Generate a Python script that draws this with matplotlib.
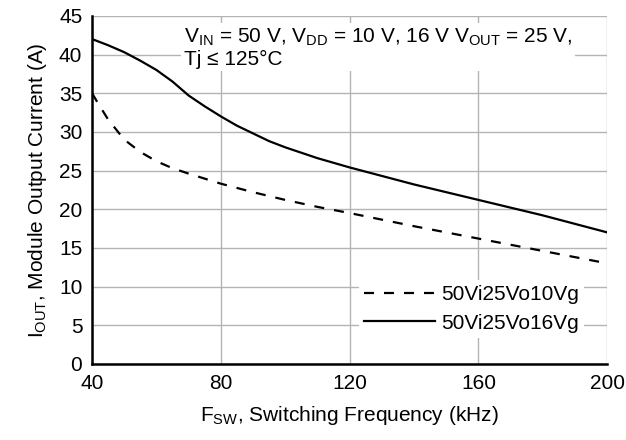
import matplotlib
matplotlib.use('Agg')
import matplotlib.pyplot as plt

plt.rcParams['font.family'] = ['Liberation Sans', 'DejaVu Sans']
plt.rcParams['mathtext.fontset'] = 'custom'
plt.rcParams['mathtext.rm'] = 'Liberation Sans'
plt.rcParams['mathtext.it'] = 'Liberation Sans'

# 50Vi25Vo10Vg (dashed)
freq_10vg = [40, 42, 45, 50, 55, 60, 65, 70, 80, 90, 100, 110, 120, 140, 160, 180, 200]
iout_10vg = [35, 33.6, 31.6, 29.0, 27.4, 26.2, 25.3, 24.6, 23.3, 22.2, 21.2, 20.3, 19.5, 17.8, 16.2, 14.6, 13]

# 50Vi25Vo16Vg (solid)
freq_16vg = [40, 45, 50, 55, 60, 65, 70, 75, 80, 85, 90, 95, 100, 110, 120, 130,
             140, 150, 160, 170, 180, 190, 200]
iout_16vg = [42, 41.2, 40.3, 39.2, 38.0, 36.5, 34.7, 33.3, 32.0, 30.8, 29.8, 28.8,
             28.0, 26.6, 25.4, 24.3, 23.2, 22.2, 21.2, 20.2, 19.2, 18.1, 17]

x_ticks = [40, 80, 120, 160, 200]
y_ticks = [0, 5, 10, 15, 20, 25, 30, 35, 40, 45]

fig = plt.figure(figsize=(6.26, 4.4), dpi=100)
ax = fig.add_axes([0.147, 0.173, 0.823, 0.791])

ax.plot(freq_10vg, iout_10vg, color='black', lw=1.6, ls=(0, (4.5, 4.5)), label='50Vi25Vo10Vg')
ax.plot(freq_16vg, iout_16vg, color='black', lw=1.6, label='50Vi25Vo16Vg')

ax.set_xlim(40, 200)
ax.set_ylim(0, 45)
ax.set_xticks(x_ticks)
ax.set_yticks(y_ticks)
ax.grid(True, color='#b4b4b4', lw=1)
ax.set_axisbelow(True)
ax.tick_params(length=0, labelsize=15, pad=7)
for s in ['top', 'right']:
    ax.spines[s].set_visible(False)
for s in ['left', 'bottom']:
    ax.spines[s].set_linewidth(1.8)

ax.set_xlabel(r'$\mathrm{F_{SW}}$, Switching Frequency (kHz)', fontsize=15, labelpad=8)
ax.set_ylabel(r'$\mathrm{I_{OUT}}$, Module Output Current (A)', fontsize=15, labelpad=7)

ax.text(68.5, 43.6,
        r'$\mathrm{V_{IN}}$ = 50 V, $\mathrm{V_{DD}}$ = 10 V, 16 V $\mathrm{V_{OUT}}$ = 25 V,' + '\n' + 'Tj ≤ 125°C',
        fontsize=15, va='top', ha='left', linespacing=1.1,
        bbox=dict(facecolor='white', edgecolor='none', pad=2))

leg = ax.legend(loc='lower right', bbox_to_anchor=(0.975, 0.045), frameon=True, fontsize=15,
                handlelength=3.4, handletextpad=0.3, labelspacing=0.45, borderpad=0.25)
leg.get_frame().set_edgecolor('none')
leg.get_frame().set_facecolor('white')
leg.get_frame().set_alpha(1)

fig.savefig('out.png', dpi=100)
